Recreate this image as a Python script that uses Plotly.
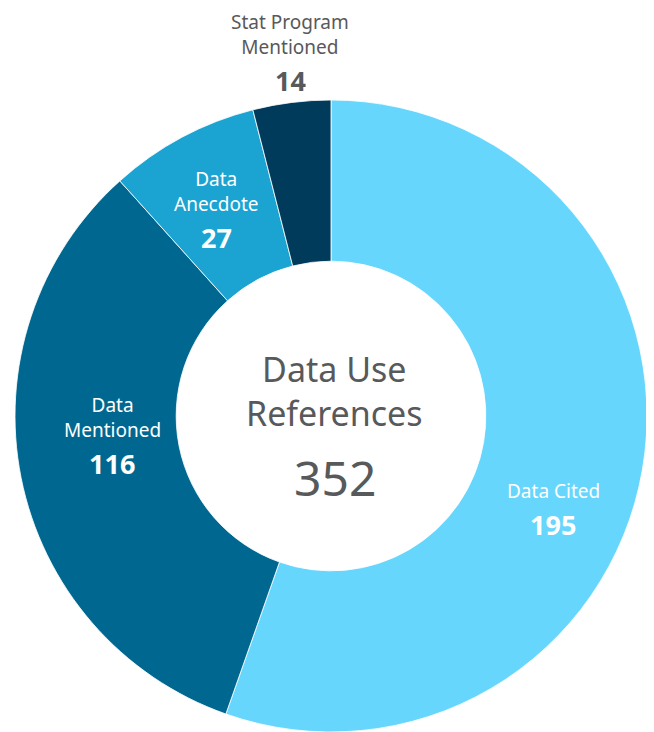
import plotly.graph_objects as go

W, H = 654, 732
OFF = 8  # browser body margin offset

# ---- data ----
categories = ["Data Cited", "Data Mentioned", "Data Anecdote", "Stat Program Mentioned"]
label_lines = ["Data Cited", "Data<br>Mentioned", "Data<br>Anecdote", "Stat Program<br>Mentioned"]
values = [195, 116, 27, 14]
center_title = "Data Use<br>References"

# ---- styles ----
colors = ["#66d6fd", "#006890", "#1ba3d1", "#003b5c"]
label_colors = ["white", "white", "white", "#58595b"]
grey = "#58595b"
FONT = "Noto Sans"

# label anchor positions (screen pixels): x, y of boundary between name and number
label_pos = [(553, 505), (112, 444), (216, 218), (290, 61)]

fig = go.Figure(go.Pie(
    labels=categories,
    values=values,
    marker=dict(colors=colors, line=dict(color="rgba(255,255,255,0.8)", width=1)),
    hole=0.49,
    sort=False,
    direction="clockwise",
    rotation=0,
    textinfo="none",
    hoverinfo="label+value",
    showlegend=False,
    domain=dict(x=[(15 - OFF) / W, (647 - OFF) / W],
                y=[(H - 732 + OFF) / H, (H - 100 + OFF) / H]),
))

def px(x, y):
    return (x - OFF) / W, 1 - (y - OFF) / H

annotations = []
for lab, val, col, (x, y) in zip(label_lines, values, label_colors, label_pos):
    ax, ay = px(x, y)
    annotations.append(dict(x=ax, y=ay, xref="paper", yref="paper", text=lab,
                            showarrow=False, xanchor="center", yanchor="bottom", borderpad=0,
                            font=dict(family=FONT, size=19, color=col)))
    annotations.append(dict(x=ax, y=ay, xref="paper", yref="paper", text=f"<b>{val}</b>",
                            showarrow=False, xanchor="center", yanchor="top", borderpad=0,
                            font=dict(family=FONT, size=27, color=col)))

cx, cy = px(334, 391)
annotations.append(dict(x=cx, y=cy, xref="paper", yref="paper", text=center_title,
                        showarrow=False, xanchor="center", yanchor="middle",
                        font=dict(family=FONT, size=34, color=grey)))
tx, ty = px(335, 477)
annotations.append(dict(x=tx, y=ty, xref="paper", yref="paper", text=str(sum(values)),
                        showarrow=False, xanchor="center", yanchor="middle",
                        font=dict(family=FONT, size=48, color=grey)))

fig.update_layout(
    width=W, height=H,
    margin=dict(l=0, r=0, t=0, b=0),
    paper_bgcolor="white", plot_bgcolor="white",
    annotations=annotations,
)

fig.write_html("out.html")
